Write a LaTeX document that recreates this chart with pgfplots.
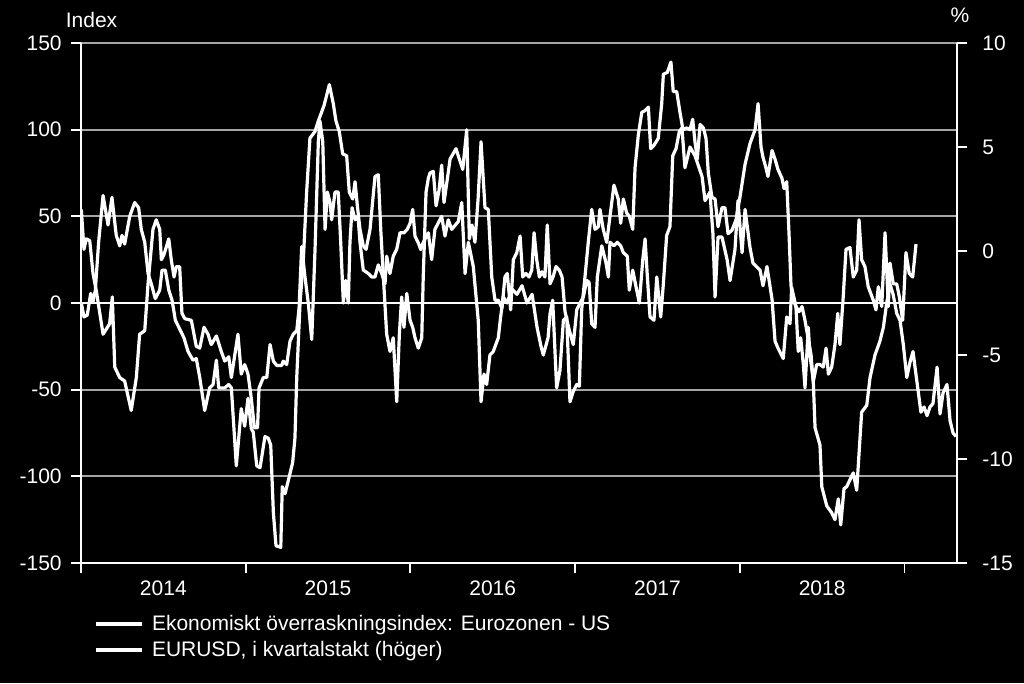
\documentclass[border=0pt]{standalone}
\usepackage{fontspec}
\setmainfont{Liberation Sans}
\usepackage{pgfplots}
\usepackage{pgfplotstable}
\pgfplotsset{compat=1.18}
\definecolor{gridgray}{RGB}{165,165,165}

\pgfplotstableread{
year val
2014.002 54
2014.018 31
2014.032 37
2014.053 36
2014.073 17
2014.093 7
2014.134 -18
2014.174 -12
2014.190 3.5
2014.205 -37
2014.235 -43
2014.265 -45
2014.305 -62
2014.336 -43
2014.356 -18
2014.387 -16
2014.407 11
2014.437 42.5
2014.457 48
2014.478 42.5
2014.488 25
2014.504 28
2014.533 37
2014.548 25
2014.565 15
2014.579 21
2014.599 21
2014.613 -6
2014.630 -9
2014.670 -10
2014.700 -25
2014.721 -26
2014.747 -14
2014.771 -18
2014.791 -24
2014.822 -19
2014.852 -28
2014.873 -33.5
2014.897 -31
2014.913 -43
2014.953 -18
2014.973 -41
2014.994 -35.5
2015.014 -41
2015.034 -55
2015.053 -72
2015.072 -72
2015.081 -49
2015.107 -43
2015.128 -43
2015.148 -24
2015.168 -33.5
2015.188 -36
2015.219 -36
2015.228 -33.5
2015.249 -35.5
2015.269 -22
2015.289 -18
2015.310 -16
2015.324 -3
2015.340 32.5
2015.360 15
2015.380 0
2015.401 -21
2015.421 31
2015.441 93
2015.451 105
2015.468 93
2015.482 42.5
2015.496 64
2015.512 58
2015.522 48
2015.542 64
2015.562 64
2015.577 35
2015.593 0
2015.607 13
2015.623 0
2015.633 35
2015.646 55
2015.664 48
2015.682 50
2015.694 35
2015.714 19
2015.745 17
2015.765 15
2015.785 15
2015.805 22
2015.826 17
2015.846 11
2015.856 27
2015.876 17
2015.896 27
2015.917 31
2015.937 40.5
2015.961 40.5
2015.981 42.5
2015.998 46
2016.014 54
2016.028 38.6
2016.048 34.7
2016.063 30.8
2016.078 35
2016.109 40.5
2016.129 25
2016.149 42.5
2016.190 50
2016.210 38.6
2016.230 48
2016.251 42.5
2016.291 47
2016.312 58
2016.332 17
2016.352 35
2016.382 21
2016.412 -10
2016.429 -57
2016.447 -41
2016.463 -47
2016.483 -30
2016.503 -28
2016.534 -20
2016.548 -8
2016.564 3.5
2016.587 0
2016.617 8
2016.647 5
2016.678 10
2016.708 0
2016.739 5
2016.769 -14
2016.793 -25
2016.807 -30
2016.836 -20
2016.848 -6
2016.864 1.6
2016.888 -49
2016.908 -39
2016.929 -10
2016.949 -8
2016.969 -57
2016.989 -51
2017.010 -47
2017.026 -48
2017.040 -4
2017.060 15
2017.080 35
2017.101 54
2017.121 42.5
2017.141 44
2017.151 54
2017.171 42.5
2017.192 35
2017.212 50
2017.236 68
2017.262 60
2017.277 46
2017.293 60
2017.313 52
2017.329 50
2017.350 42.5
2017.364 78
2017.384 97
2017.405 110
2017.425 111
2017.445 113
2017.459 89
2017.479 91
2017.505 95
2017.526 115
2017.536 132
2017.560 133
2017.582 139
2017.596 122
2017.617 122
2017.637 110
2017.655 100
2017.678 101
2017.698 100
2017.714 106
2017.728 93
2017.742 83
2017.759 103
2017.779 101
2017.795 95
2017.809 75
2017.831 61
2017.850 60
2017.868 44
2017.892 55
2017.910 55
2017.929 40
2017.953 42
2017.977 48
2018.001 61
2018.032 80
2018.062 92
2018.093 100
2018.111 115
2018.129 90
2018.141 84
2018.159 78
2018.171 73
2018.196 88
2018.214 83
2018.232 77
2018.256 72
2018.269 66
2018.285 70
2018.299 40
2018.311 10
2018.323 2
2018.341 -2
2018.360 -5
2018.378 -2
2018.396 -10
2018.414 -20
2018.433 -30
2018.447 -47
2018.457 -72
2018.487 -82
2018.498 -106
2018.528 -117
2018.558 -121
2018.578 -125
2018.598 -113
2018.613 -128
2018.633 -107
2018.649 -106
2018.689 -98
2018.710 -108
2018.740 -63
2018.771 -59
2018.791 -43
2018.821 -30
2018.851 -22
2018.872 -14
2018.892 0
2018.912 11
2018.931 5
2018.953 -6
2018.973 -10
2018.993 -24
2019.014 -43
2019.034 -34
2019.052 -28
2019.064 -37
2019.082 -50
2019.100 -63
2019.119 -60
2019.137 -65
2019.155 -60
2019.173 -58
2019.198 -37
2019.216 -64
2019.234 -52
2019.258 -47
2019.277 -68
2019.295 -75
2019.313 -77
}\idx

\pgfplotstableread{
year val
2014.002 -2.50
2014.018 -3.17
2014.038 -3.08
2014.059 -2.04
2014.073 -2.45
2014.087 -1.88
2014.107 0.42
2014.134 2.67
2014.164 1.25
2014.188 2.58
2014.214 0.75
2014.235 0.25
2014.249 0.75
2014.265 0.33
2014.296 1.67
2014.326 2.33
2014.350 2.08
2014.366 1.04
2014.387 0.42
2014.407 -1.08
2014.427 -1.58
2014.451 -2.29
2014.478 -1.88
2014.492 -0.92
2014.512 -0.92
2014.533 -1.88
2014.553 -2.37
2014.573 -3.33
2014.599 -3.75
2014.625 -4.17
2014.650 -4.83
2014.680 -5.25
2014.700 -5.17
2014.721 -6.08
2014.751 -7.67
2014.781 -6.58
2014.802 -6.42
2014.822 -5.25
2014.836 -6.58
2014.873 -6.58
2014.897 -6.42
2014.913 -6.58
2014.943 -10.33
2014.973 -7.58
2014.994 -8.42
2015.014 -7.08
2015.034 -8.54
2015.046 -8.71
2015.067 -10.33
2015.087 -10.42
2015.117 -8.92
2015.137 -9.00
2015.152 -9.33
2015.168 -12.58
2015.184 -14.17
2015.213 -14.25
2015.222 -11.33
2015.239 -11.67
2015.265 -10.83
2015.285 -10.17
2015.299 -9.00
2015.310 -6.08
2015.330 -2.50
2015.350 -0.42
2015.370 2.83
2015.390 5.42
2015.421 5.75
2015.441 6.25
2015.476 7.00
2015.508 8.00
2015.532 7.08
2015.548 6.25
2015.568 5.75
2015.589 4.67
2015.613 4.58
2015.629 2.83
2015.650 2.50
2015.664 3.33
2015.678 2.17
2015.694 1.04
2015.714 0.25
2015.731 0.08
2015.755 1.04
2015.785 3.58
2015.805 3.67
2015.820 1.04
2015.836 -1.25
2015.856 -4.00
2015.876 -4.83
2015.896 -4.17
2015.917 -7.25
2015.933 -4.00
2015.947 -2.21
2015.961 -3.67
2015.978 -2.04
2015.998 -3.33
2016.014 -3.67
2016.028 -4.17
2016.048 -4.67
2016.069 -4.17
2016.078 -1.25
2016.095 2.83
2016.109 3.50
2016.119 3.75
2016.139 3.83
2016.156 2.17
2016.174 2.92
2016.190 4.13
2016.204 2.33
2016.222 3.33
2016.241 4.42
2016.277 4.92
2016.297 4.42
2016.318 3.92
2016.342 5.83
2016.358 0.58
2016.374 1.25
2016.392 0.42
2016.411 2.50
2016.429 5.25
2016.453 2.08
2016.473 2.00
2016.494 -1.25
2016.514 -2.37
2016.534 -2.37
2016.556 -2.75
2016.574 -1.25
2016.588 -1.08
2016.609 -2.83
2016.625 -0.42
2016.646 -0.08
2016.666 0.72
2016.682 -1.25
2016.702 -1.08
2016.720 -1.25
2016.737 -0.92
2016.751 0.88
2016.767 -0.42
2016.783 -1.25
2016.799 -1.00
2016.817 -1.25
2016.831 1.25
2016.848 -1.58
2016.866 -1.25
2016.884 -0.75
2016.904 -0.92
2016.921 -1.25
2016.939 -2.92
2016.963 -3.75
2016.989 -4.50
2017.010 -2.83
2017.030 -2.50
2017.050 -2.21
2017.071 -1.42
2017.085 -1.50
2017.101 -3.50
2017.121 -3.67
2017.135 -1.25
2017.162 0.25
2017.188 -0.58
2017.202 -1.25
2017.212 0.42
2017.236 0.25
2017.256 0.42
2017.277 0.25
2017.293 -0.08
2017.317 -0.25
2017.329 -1.88
2017.350 -0.92
2017.370 -1.72
2017.390 -2.50
2017.411 -0.42
2017.425 0.58
2017.439 -1.25
2017.455 -3.17
2017.479 -3.33
2017.496 -1.25
2017.520 -3.17
2017.536 -1.58
2017.556 0.75
2017.576 1.17
2017.593 4.58
2017.613 4.92
2017.633 5.75
2017.649 5.92
2017.667 4.00
2017.698 5.00
2017.728 4.58
2017.771 3.58
2017.789 2.42
2017.819 2.83
2017.837 0.83
2017.850 -2.21
2017.868 0.67
2017.892 0.67
2017.923 -0.42
2017.941 -1.42
2017.971 0.08
2017.989 2.42
2018.014 -0.08
2018.032 2.00
2018.062 0.17
2018.080 -0.58
2018.123 -0.92
2018.141 -1.67
2018.165 -0.75
2018.196 -2.33
2018.214 -4.33
2018.232 -4.67
2018.264 -5.17
2018.285 -3.17
2018.305 -3.50
2018.315 -1.75
2018.341 -2.67
2018.355 -4.83
2018.370 -4.17
2018.386 -5.46
2018.396 -6.58
2018.416 -3.67
2018.426 -5.00
2018.447 -6.25
2018.467 -5.46
2018.487 -5.46
2018.507 -5.58
2018.524 -4.67
2018.538 -5.92
2018.558 -5.58
2018.578 -4.50
2018.595 -3.00
2018.608 -4.50
2018.628 -2.21
2018.645 0.08
2018.669 0.17
2018.689 -1.25
2018.710 -0.92
2018.724 1.50
2018.740 -0.42
2018.760 -0.75
2018.780 -1.72
2018.811 -2.37
2018.827 -2.83
2018.841 -1.72
2018.862 -2.67
2018.882 0.88
2018.902 -2.67
2018.912 -0.58
2018.932 -1.58
2018.953 -1.58
2018.969 -2.21
2018.989 -3.33
2019.009 -0.08
2019.029 -1.08
2019.050 -1.25
2019.070 0.33
}\eur

\begin{document}
\begin{tikzpicture}[font=\fontsize{15.75}{19}\selectfont]
\fill[black] (-60.75pt,-90pt) rectangle (707.25pt,422.25pt);
\begin{axis}[
  name=main,
  at={(0,0)}, anchor=south west,
  scale only axis, width=657pt, height=390pt,
  xmin=2014, xmax=2019.319,
  ymin=-150, ymax=150,
  axis x line*=bottom, axis y line*=left,
  axis line style={white, line width=1.4pt},
  tick align=outside,
  major tick length=7.5pt,
  tick style={white, line width=1.4pt},
  xtick={2014,2015,2016,2017,2018,2019},
  xticklabels={},
  extra x ticks={2014.5,2015.5,2016.5,2017.5,2018.5},
  extra x tick labels={2014,2015,2016,2017,2018},
  extra x tick style={major tick length=0pt, tick style={draw=none}},
  xticklabel style={yshift=-9.5pt},
  ytick={-150,-100,-50,0,50,100,150},
  yticklabels={-150,-100,-50,0,50,100,150},
  yticklabel style={xshift=-3.5pt},
  ymajorgrids,
  grid style={gridgray, line width=1.3pt},
  ticklabel style={text=white, font=\fontsize{15.75}{19}\selectfont},
]
\draw[white, line width=1.3pt] (rel axis cs:0,0.5) -- (rel axis cs:1,0.5);
\addplot[white, line width=2.4pt, line join=round] table[x=year,y=val]{\idx};
\end{axis}
\begin{axis}[
  at={(0,0)}, anchor=south west,
  scale only axis, width=657pt, height=390pt,
  xmin=2014, xmax=2019.319,
  ymin=-15, ymax=10,
  axis x line=none, axis y line*=right,
  axis line style={white, line width=1.4pt},
  tick align=outside,
  major tick length=7.5pt,
  tick style={white, line width=1.4pt},
  xtick=\empty,
  ytick={-15,-10,-5,0,5,10},
  yticklabels={-15,-10,-5,0,5,10},
  yticklabel style={xshift=8pt},
  ticklabel style={text=white, font=\fontsize{15.75}{19}\selectfont},
  legend style={at={(rel axis cs:0,0)}, anchor=north west, xshift=9.75pt, yshift=-38pt,
    draw=none, fill=none, text=white, font=\fontsize{15.75}{19}\selectfont,
    inner sep=0pt, row sep=4.3pt, nodes={inner sep=1pt},
    /tikz/every odd column/.append style={column sep=5.3pt}},
  legend cell align=left,
  legend image code/.code={\draw[white, line width=3pt] (0pt,0pt) -- (34pt,0pt);},
]
\addlegendimage{white, line width=3pt}
\addlegendentry{Ekonomiskt överraskningsindex: Eurozonen - US}
\addplot[white, line width=2.4pt, line join=round] table[x=year,y=val]{\eur};
\addlegendentry{EURUSD, i kvartalstakt (höger)}
\end{axis}
\node[white, anchor=center] at ([xshift=7.9pt, yshift=17.25pt]main.north west) {Index};
\node[white, anchor=center] at ([xshift=2.25pt, yshift=21pt]main.north east) {\%};
\end{tikzpicture}
\end{document}
